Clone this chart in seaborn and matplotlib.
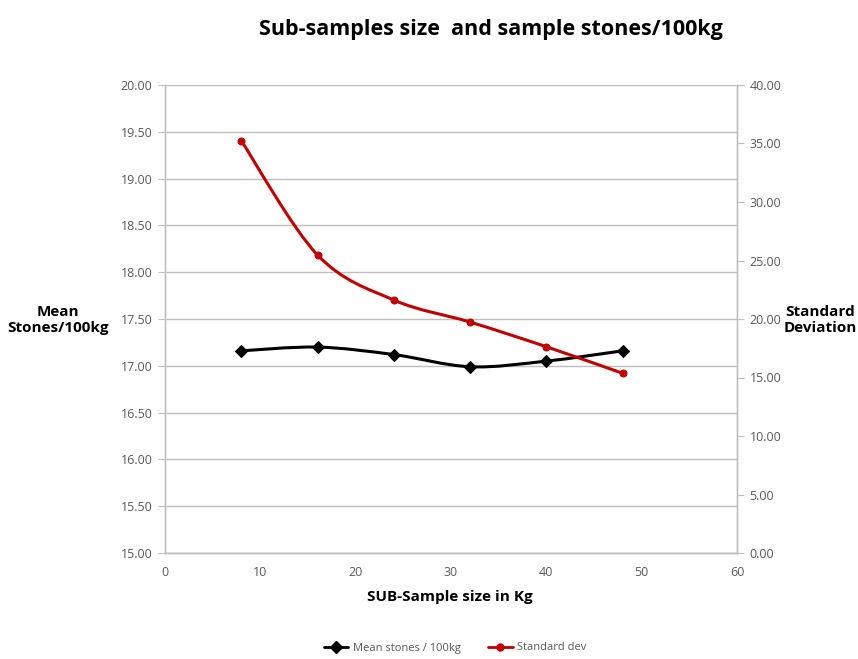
import matplotlib
matplotlib.use("Agg")
import matplotlib.pyplot as plt
from matplotlib.path import Path
from matplotlib.patches import PathPatch
from matplotlib.lines import Line2D
import seaborn as sns
import pandas as pd
import numpy as np

sample_size = [8, 16, 24, 32, 40, 48]
mean_stones = [17.16, 17.20, 17.12, 16.99, 17.05, 17.16]
std_dev = [35.24, 25.47, 21.62, 19.74, 17.63, 15.36]

title = "Sub-samples size  and sample stones/100kg"
xlabel = "SUB-Sample size in Kg"
ylabel_left = "Mean\nStones/100kg"
ylabel_right = "Standard\nDeviation"
legend_labels = ["Mean stones / 100kg", "Standard dev"]

sns.set_style("white")
plt.rcParams["font.family"] = ["Open Sans", "DejaVu Sans"]
plt.rcParams["text.color"] = "black"

df = pd.DataFrame({"x": sample_size, "mean": mean_stones, "sd": std_dev})

fig = plt.figure(figsize=(8.58, 6.59), dpi=100)
ax = fig.add_axes([165/858, 1-553/659, (737-165)/858, (553-85)/659])
ax2 = ax.twinx()

BLACK = "#000000"
RED = "#C00000"
GRID = "#BFBFBF"
TICKC = "#595959"


def smooth_path(xs, ys):
    pts = np.column_stack([xs, ys]).astype(float)
    n = len(pts)
    verts = [pts[0]]
    codes = [Path.MOVETO]
    for i in range(n - 1):
        p0 = pts[i - 1] if i > 0 else pts[i]
        p1 = pts[i]
        p2 = pts[i + 1]
        p3 = pts[i + 2] if i + 2 < n else pts[i + 1]
        c1 = p1 + (p2 - p0) / 6.0
        c2 = p2 - (p3 - p1) / 6.0
        verts += [c1, c2, p2]
        codes += [Path.CURVE4] * 3
    return Path(verts, codes)


ax.add_patch(PathPatch(smooth_path(df["x"], df["mean"]), fill=False,
                       edgecolor=BLACK, lw=2.2, zorder=3))
ax2.add_patch(PathPatch(smooth_path(df["x"], df["sd"]), fill=False,
                        edgecolor=RED, lw=2.2, zorder=3))

sns.lineplot(data=df, x="x", y="mean", ax=ax, color=BLACK, linestyle="",
             marker="D", markersize=6.5, markeredgecolor=BLACK, zorder=4)
sns.lineplot(data=df, x="x", y="sd", ax=ax2, color=RED, linestyle="",
             marker="o", markersize=5, markeredgecolor=RED, zorder=4)

ax.set_xlim(0, 60)
ax.set_ylim(15, 20)
ax2.set_ylim(0, 40)
ax.set_xticks(np.arange(0, 61, 10))
ax.set_yticks(np.arange(15, 20.01, 0.5))
ax2.set_yticks(np.arange(0, 40.01, 5))
ax.set_yticklabels([f"{v:.2f}" for v in np.arange(15, 20.01, 0.5)])
ax2.set_yticklabels([f"{v:.2f}" for v in np.arange(0, 40.01, 5)])

ax.grid(axis="y", color=GRID, lw=1)
ax.grid(axis="x", visible=False)
ax2.grid(False)

for a in (ax, ax2):
    for s in a.spines.values():
        s.set_color(GRID)
        s.set_linewidth(1)
    a.spines["top"].set_visible(False)
ax.tick_params(axis="both", which="both", direction="out", length=5,
               color=GRID, labelsize=9, labelcolor=TICKC, pad=4)
ax2.tick_params(axis="y", direction="out", length=5, color=GRID,
                labelsize=9, labelcolor=TICKC, pad=4)
ax.set_xlabel("")
ax.set_ylabel("")
ax2.set_ylabel("")

fig.text(491/858, 1-30/659, title, ha="center", va="center",
         fontsize=15.5, fontweight="bold", color="black")
fig.text(450/858, 1-597/659, xlabel, ha="center", va="center",
         fontsize=11, fontweight="bold", color="black")
fig.text(58/858, 1-320/659, ylabel_left, ha="center", va="center",
         fontsize=11, fontweight="bold", linespacing=1.1, color="black")
fig.text(820/858, 1-320/659, ylabel_right, ha="center", va="center",
         fontsize=11, fontweight="bold", linespacing=1.1, color="black")

handles = [
    Line2D([], [], color=BLACK, lw=2, marker="D", markersize=6),
    Line2D([], [], color=RED, lw=2, marker="o", markersize=5),
]
fig.legend(handles, legend_labels, loc="center", bbox_to_anchor=(455/858, 1-648/659),
           ncol=2, frameon=False, fontsize=8, handlelength=2.2,
           columnspacing=2.5, handletextpad=0.4, labelcolor=TICKC)

fig.savefig("out.png", dpi=100)
